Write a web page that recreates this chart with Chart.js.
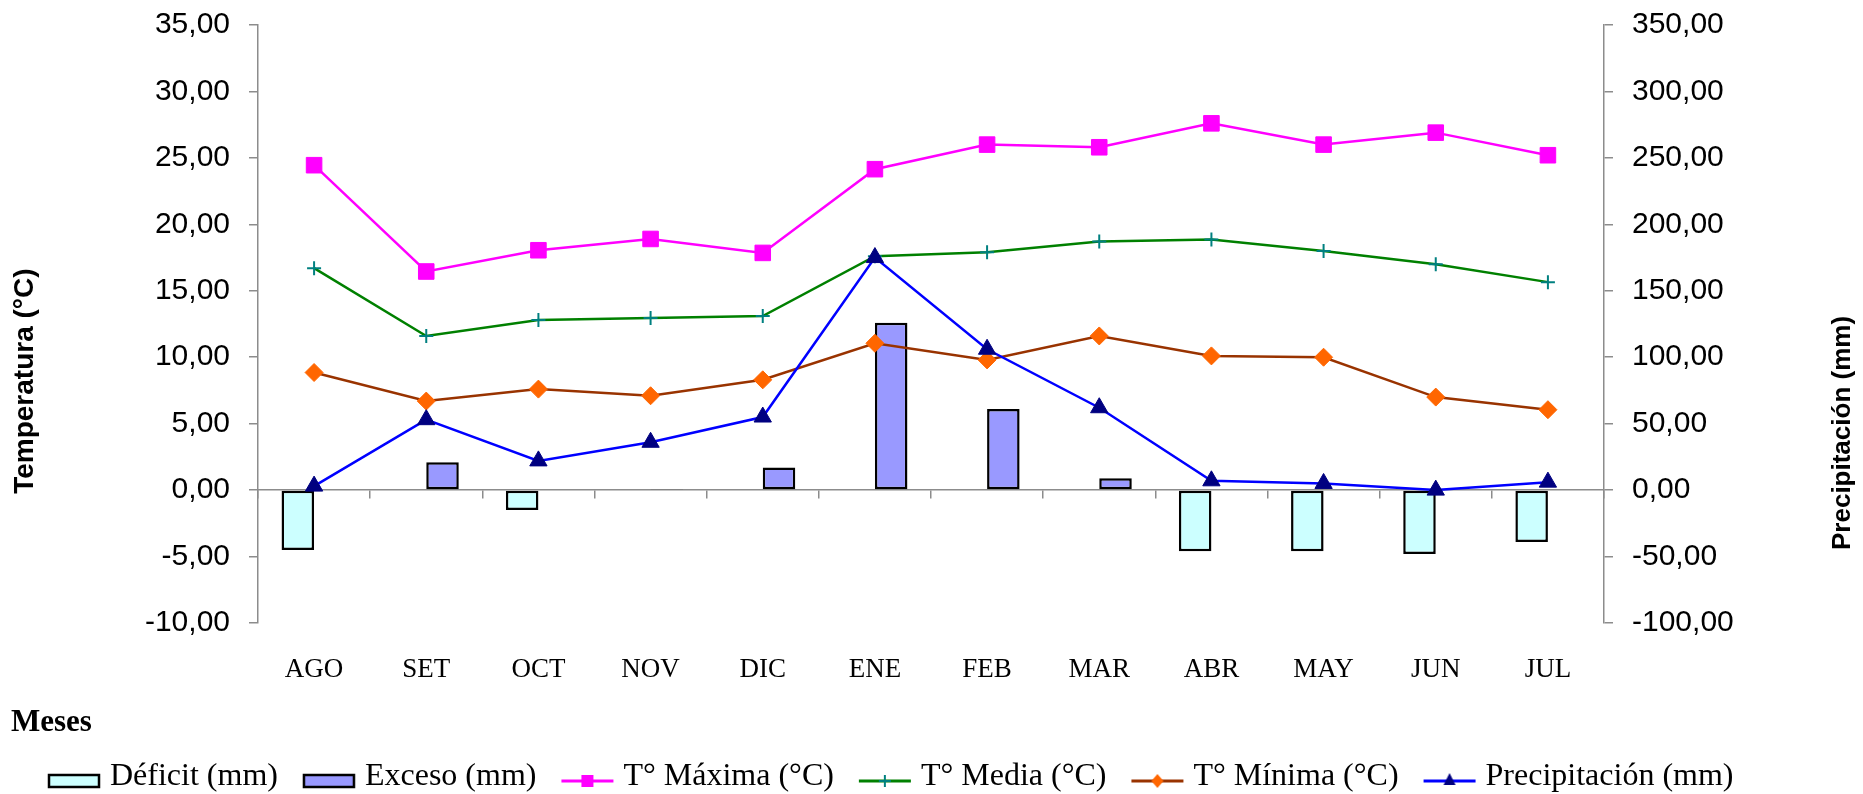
<!DOCTYPE html>
<html><head><meta charset="utf-8">
<script src="https://cdn.jsdelivr.net/npm/chart.js@4.4.1/dist/chart.umd.min.js"></script>
<style>html,body{margin:0;padding:0;background:#fff;overflow:hidden}</style>
</head><body>
<canvas id="c" width="1863" height="794"></canvas>
<script>
// ---------- data ----------
const months   = ['AGO','SET','OCT','NOV','DIC','ENE','FEB','MAR','ABR','MAY','JUN','JUL'];
const tMax     = [24.45, 16.45, 18.05, 18.9, 17.85, 24.15, 26.0, 25.8, 27.6, 26.0, 26.9, 25.2];
const tMedia   = [16.7, 11.6, 12.8, 12.95, 13.1, 17.6, 17.9, 18.7, 18.85, 18.0, 17.0, 15.65];
const tMin     = [8.85, 6.7, 7.6, 7.1, 8.3, 11.05, 9.8, 11.6, 10.1, 10.0, 7.0, 6.05];
const precip   = [3, 53, 22, 36, 55, 175, 106, 62, 7, 5, 0, 6];
const deficit  = [-45, null, -15, null, null, null, null, null, -46, -46, -48, -39];
const exceso   = [null, 21, null, 0.5, 17, 126, 61, 9, null, null, null, null];
const tempTicks   = [-10, -5, 0, 5, 10, 15, 20, 25, 30, 35];
const precipTicks = [-100, -50, 0, 50, 100, 150, 200, 250, 300, 350];

// ---------- styles ----------
const GRAY = '#8c8c8c';
const SERIF = '"Liberation Serif", "Times New Roman", serif';
const SANS = '"Liberation Sans", Arial, sans-serif';
const fmt = v => Number(v).toFixed(2).replace('.', ',');

function icon(kind, a, b) {
  const c = document.createElement('canvas');
  c.width = 54; c.height = 28;
  const g = c.getContext('2d');
  const cy = 18;
  if (kind === 'box') {
    g.fillStyle = a; g.fillRect(2, cy - 6, 50, 12);
    g.lineWidth = 2.5; g.strokeStyle = '#000'; g.strokeRect(2, cy - 6, 50, 12);
    return c;
  }
  g.strokeStyle = a; g.lineWidth = 3;
  g.beginPath(); g.moveTo(1, cy); g.lineTo(53, cy); g.stroke();
  g.fillStyle = b; g.strokeStyle = b;
  const x = 27;
  if (kind === 'rect') { g.fillRect(x - 6, cy - 6, 12, 12); }
  else if (kind === 'rectRot') { g.beginPath(); g.moveTo(x, cy - 7); g.lineTo(x + 6, cy); g.lineTo(x, cy + 7); g.lineTo(x - 6, cy); g.closePath(); g.fill(); }
  else if (kind === 'triangle') { g.beginPath(); g.moveTo(x, cy - 8); g.lineTo(x + 6, cy + 4); g.lineTo(x - 6, cy + 4); g.closePath(); g.fill(); }
  else if (kind === 'cross') { g.lineWidth = 2; g.beginPath(); g.moveTo(x - 6, cy); g.lineTo(x + 6, cy); g.moveTo(x, cy - 6); g.lineTo(x, cy + 6); g.stroke(); }
  return c;
}
const legendIcons = [
  icon('box', '#CCFFFF'),
  icon('box', '#9999FF'),
  icon('rect', '#FF00FF', '#FF00FF'),
  icon('cross', '#008000', '#008080'),
  icon('rectRot', '#993300', '#FF6600'),
  icon('triangle', '#0000FF', '#000080')
];

const titlesPlugin = {
  id: 'titles',
  afterLayout(chart) {
    if (chart.legend) { chart.legend.top += 9; chart.legend.bottom += 9; }
  },
  afterDraw(chart) {
    const { ctx, chartArea, scales } = chart;
    ctx.save();
    ctx.fillStyle = '#000';
    ctx.textAlign = 'center'; ctx.textBaseline = 'middle';
    ctx.font = 'bold 28px ' + SANS;
    ctx.save(); ctx.translate(25, scales.y.getPixelForValue(8.2)); ctx.rotate(-Math.PI / 2); ctx.fillText('Temperatura (°C)', 0, 0); ctx.restore();
    ctx.font = 'bold 26px ' + SANS;
    ctx.save(); ctx.translate(chart.width - 20, scales.y2.getPixelForValue(43)); ctx.rotate(-Math.PI / 2); ctx.fillText('Precipitación (mm)', 0, 0); ctx.restore();
    ctx.textAlign = 'left';
    ctx.font = 'bold 31px ' + SERIF;
    ctx.fillText('Meses', 11, chartArea.bottom + 100);
    ctx.restore();
  }
};

const yGrid = { display: true, drawOnChartArea: false, drawTicks: true, tickLength: 9, color: GRAY, lineWidth: 1.5 };
const yFit = w => s => { s.width = w; s.paddingTop = 0; s.paddingBottom = 0; };

new Chart(document.getElementById('c'), {
  data: {
    labels: months,
    datasets: [
      { type: 'bar', label: 'Déficit (mm)', data: deficit, xAxisID: 'x', yAxisID: 'y2',
        backgroundColor: '#CCFFFF', borderColor: '#000', borderWidth: 2.5, borderSkipped: false,
        categoryPercentage: 0.58, barPercentage: 1, order: 3 },
      { type: 'bar', label: 'Exceso (mm)', data: exceso, xAxisID: 'x', yAxisID: 'y2',
        backgroundColor: '#9999FF', borderColor: '#000', borderWidth: 2.5, borderSkipped: false,
        categoryPercentage: 0.58, barPercentage: 1, order: 3 },
      { type: 'line', label: 'T° Máxima (°C)', data: tMax, xAxisID: 'x', yAxisID: 'y',
        borderColor: '#FF00FF', borderWidth: 2.5, tension: 0, pointStyle: 'rect', pointRadius: 11,
        pointBackgroundColor: '#FF00FF', pointBorderColor: '#FF00FF', pointBorderWidth: 1, order: 1 },
      { type: 'line', label: 'T° Media (°C)', data: tMedia, xAxisID: 'x', yAxisID: 'y',
        borderColor: '#008000', borderWidth: 2.5, tension: 0, pointStyle: 'cross', pointRadius: 7,
        pointBorderColor: '#008080', pointBorderWidth: 2, order: 1 },
      { type: 'line', label: 'T° Mínima (°C)', data: tMin, xAxisID: 'x', yAxisID: 'y',
        borderColor: '#993300', borderWidth: 2.5, tension: 0, pointStyle: 'rectRot', pointRadius: 9,
        pointBackgroundColor: '#FF6600', pointBorderColor: '#FF6600', pointBorderWidth: 1, order: 1 },
      { type: 'line', label: 'Precipitación (mm)', data: precip, xAxisID: 'x', yAxisID: 'y2',
        borderColor: '#0000FF', borderWidth: 2.5, tension: 0, pointStyle: 'triangle', pointRadius: 10,
        pointBackgroundColor: '#000080', pointBorderColor: '#000080', pointBorderWidth: 1, order: 0 }
    ]
  },
  options: {
    responsive: false, animation: false, devicePixelRatio: 1,
    layout: { padding: { left: 23, right: 0, top: 25, bottom: 0 } },
    plugins: {
      tooltip: { enabled: false },
      legend: {
        position: 'bottom', align: 'start',
        labels: {
          usePointStyle: true, pointStyleWidth: 40, padding: 31, color: '#000',
          font: { family: SERIF, size: 32 },
          generateLabels: chart => chart.data.datasets.map((ds, i) => ({
            text: ds.label, pointStyle: legendIcons[i], datasetIndex: i,
            fillStyle: 'transparent', strokeStyle: 'transparent', lineWidth: 0, fontColor: '#000', hidden: false
          }))
        }
      }
    },
    scales: {
      x: {
        type: 'category', offset: true,
        grid: { display: false }, border: { display: false },
        ticks: { color: '#000', padding: 23, maxRotation: 0, autoSkip: false, font: { family: SERIF, size: 27 } },
        afterFit: s => { s.height = 98; }
      },
      x0: {
        type: 'category', position: { y: 0 }, offset: true,
        grid: { display: true, offset: true, drawOnChartArea: false, drawTicks: true, tickLength: 8, color: GRAY, lineWidth: 1.5 },
        border: { display: true, color: GRAY, width: 1.5 },
        ticks: { display: false }
      },
      y: {
        position: 'left', min: -10, max: 35,
        afterBuildTicks: s => { s.ticks = tempTicks.map(v => ({ value: v })); },
        grid: yGrid, border: { color: GRAY, width: 1.5 },
        ticks: { padding: 19, color: '#000', font: { family: SANS, size: 30 }, callback: v => fmt(v) },
        afterFit: yFit(235)
      },
      y2: {
        position: 'right', min: -100, max: 350,
        afterBuildTicks: s => { s.ticks = precipTicks.map(v => ({ value: v })); },
        grid: yGrid, border: { color: GRAY, width: 1.5 },
        ticks: { padding: 19, color: '#000', font: { family: SANS, size: 30 }, callback: v => fmt(v) },
        afterFit: yFit(259)
      }
    }
  },
  plugins: [titlesPlugin]
});
</script>
</body></html>
